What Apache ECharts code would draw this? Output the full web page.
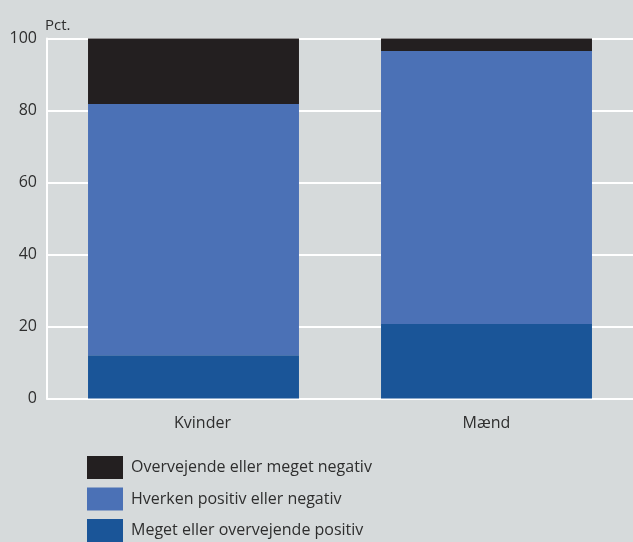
<!DOCTYPE html>
<html><head><meta charset="utf-8">
<script src="https://cdn.jsdelivr.net/npm/echarts@6/dist/echarts.min.js"></script>
<style>html,body{margin:0;padding:0;background:#d6dadb;}#c{width:633px;height:542px;}</style>
</head><body><div id="c"></div>
<script>
const categories = ["Kvinder", "Mænd"];
const positive = [12, 20.7];
const neutral = [69.8, 75.8];
const negative = [18.2, 3.5];
const yTicks = [0, 20, 40, 60, 80, 100];
const names = ["Meget eller overvejende positiv", "Hverken positiv eller negativ", "Overvejende eller meget negativ"];
const colors = ["#1a5598", "#4b71b6", "#231f20"];
const font = "'Open Sans', sans-serif";
const txt = "#2e2e2e";

const chart = echarts.init(document.getElementById('c'), null, {renderer: 'canvas'});
chart.setOption({
  backgroundColor: "#d6dadb",
  animation: false,
  grid: {left: 47, right: 0, top: 38.5, bottom: 143.5, containLabel: false},
  legend: {
    orient: 'vertical', left: 87, top: 456, height: 200, padding: 0,
    itemWidth: 36, itemHeight: 23, itemGap: 8.5,
    icon: 'rect', data: [names[2], names[1], names[0]],
    textStyle: {fontFamily: font, fontSize: 16, color: txt, padding: [0, 0, 0, 3]}
  },
  xAxis: {
    type: 'category',
    data: [{value: categories[0], textStyle: {padding: [0, 0, 0, 18]}}, categories[1]],
    axisLine: {show: true, lineStyle: {color: '#ffffff', width: 2}},
    axisTick: {show: false},
    axisLabel: {fontFamily: font, fontSize: 16, color: txt, margin: 17}
  },
  yAxis: {
    type: 'value', min: 0, max: 100, interval: 20,
    name: 'Pct.', nameLocation: 'end', nameGap: 5,
    nameTextStyle: {fontFamily: font, fontSize: 15, color: txt, align: 'left', padding: [0, 0, 0, -2]},
    axisLine: {show: true, lineStyle: {color: '#ffffff', width: 2}},
    axisTick: {show: false},
    axisLabel: {fontFamily: font, fontSize: 16, color: txt, margin: 10,
      formatter: v => yTicks.includes(v) ? String(v) : ''},
    splitLine: {show: true, lineStyle: {color: '#ffffff', width: 2}}
  },
  series: [
    {name: names[0], type: 'bar', stack: 's', data: positive, barWidth: '72%', itemStyle: {color: colors[0]}},
    {name: names[1], type: 'bar', stack: 's', data: neutral, barWidth: '72%', itemStyle: {color: colors[1]}},
    {name: names[2], type: 'bar', stack: 's', data: negative, barWidth: '72%', itemStyle: {color: colors[2]}}
  ]
});
</script></body></html>
